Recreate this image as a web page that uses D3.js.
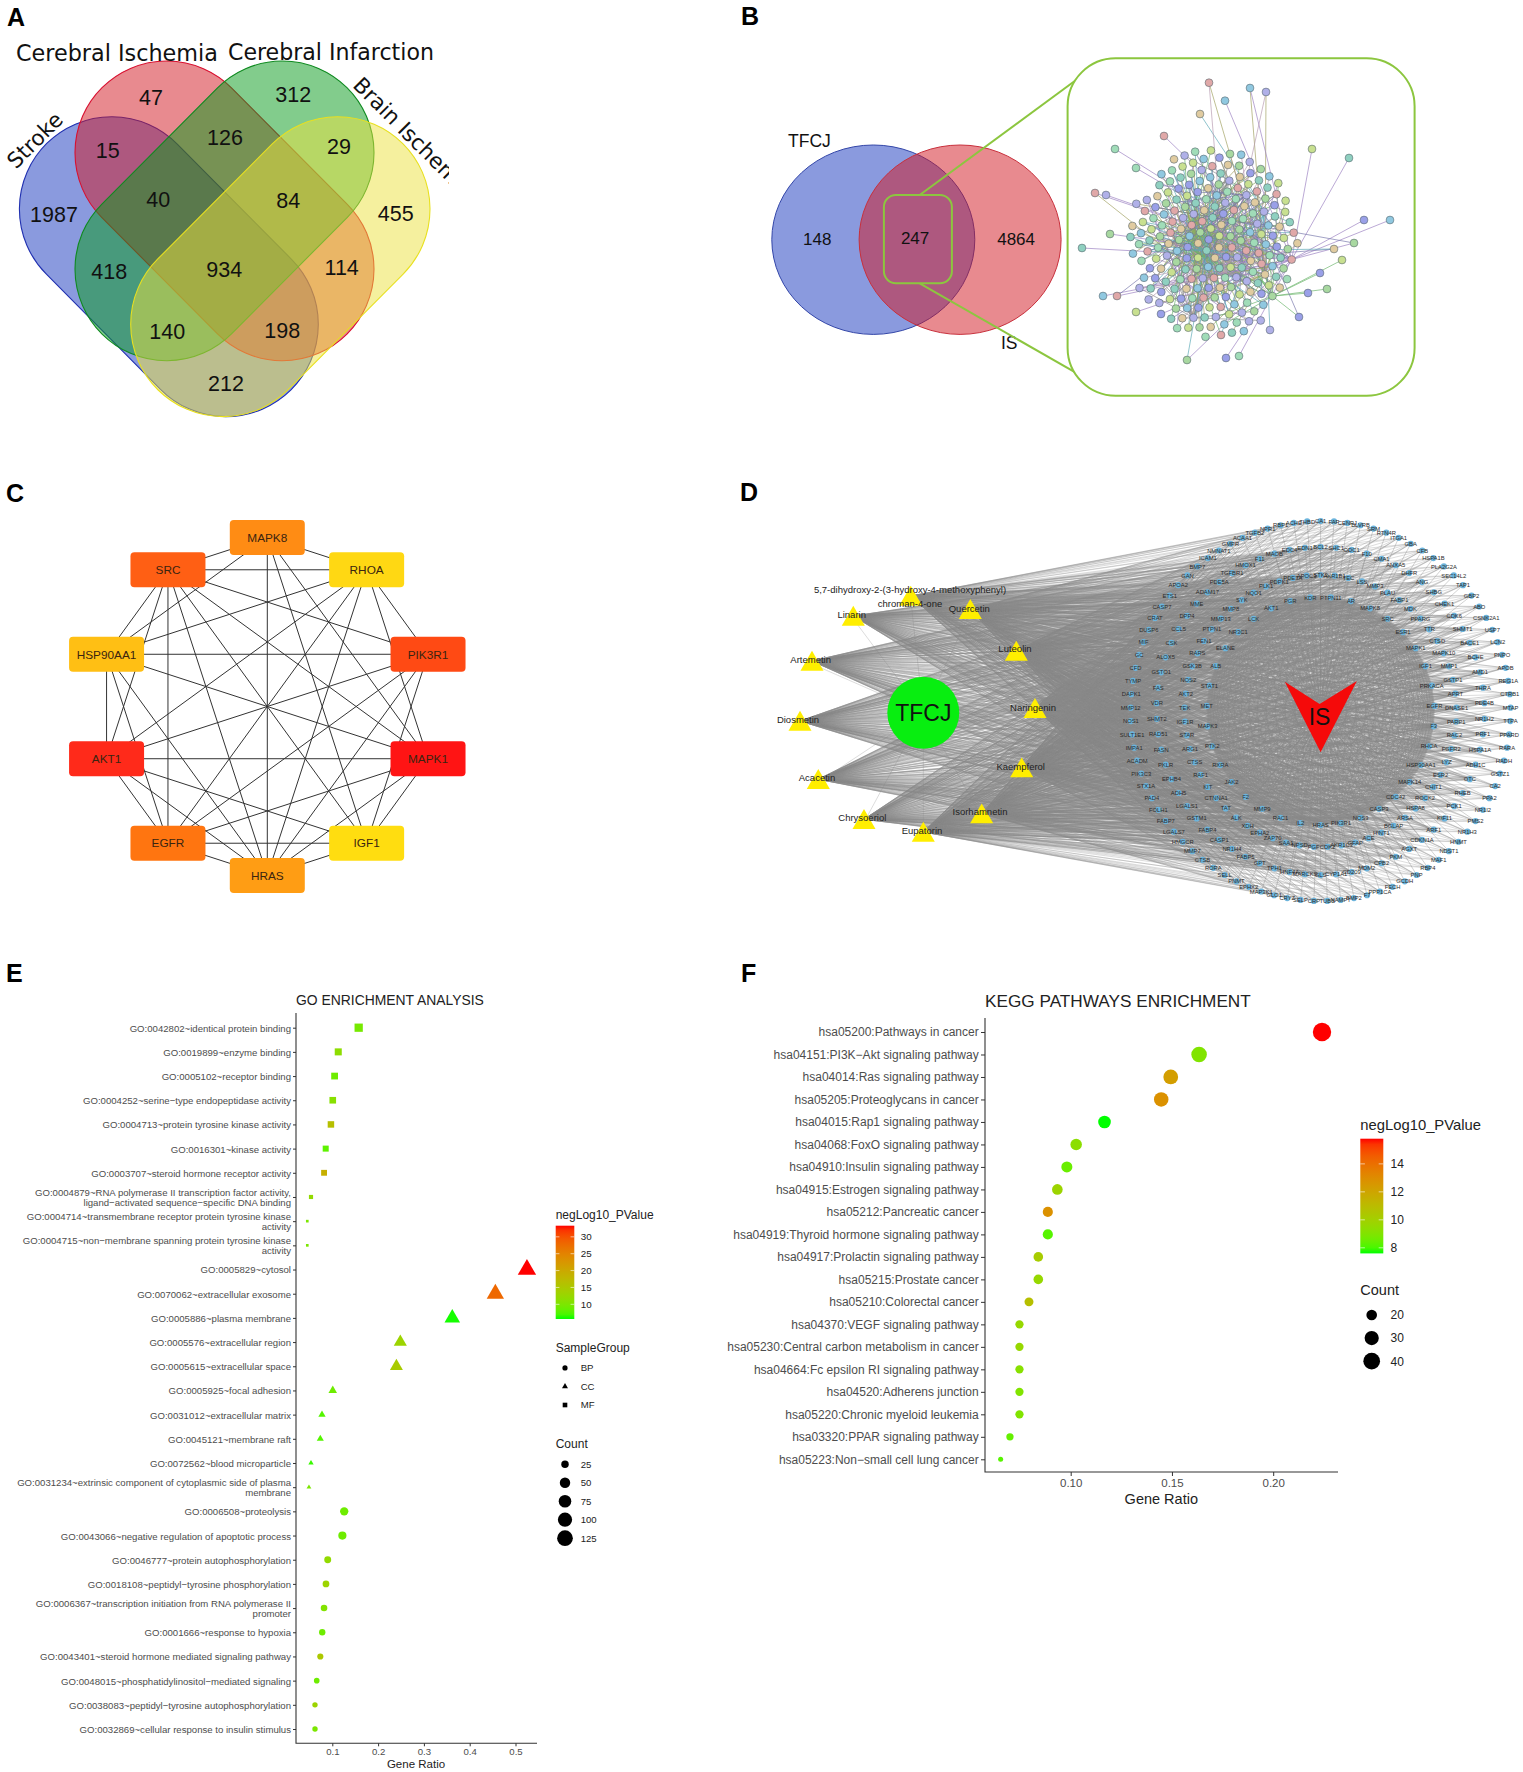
<!DOCTYPE html>
<html><head><meta charset="utf-8">
<script src="https://cdn.jsdelivr.net/npm/d3@7/dist/d3.min.js"></script>
<style>
html,body{margin:0;padding:0;background:#fff;overflow:hidden}
svg{display:block}
text{font-family:"Liberation Sans",Arial,sans-serif}
</style></head><body>
<svg id="fig" width="1523" height="1772" viewBox="0 0 1523 1772"></svg>
<script>
/* ---------- DATA ---------- */
const panelLetters = ["A","B","C","D","E","F"];
// Panel A
const vennSets = ["Stroke","Cerebral Ischemia","Cerebral Infarction","Brain Ischemia"];
const vennCounts = [47,312,15,126,29,1987,40,84,455,418,934,114,140,198,212];
// Panel B
const ppiVennSets = ["TFCJ","IS"];
const ppiVennCounts = [148,247,4864];
// Panel C
const hubGenes = ["MAPK8","RHOA","PIK3R1","MAPK1","IGF1","HRAS","EGFR","AKT1","HSP90AA1","SRC"];
const hubColors = ["#FF8C14","#FFD813","#FF4A14","#FF1414","#FFDD10","#FF9D14","#FF7510","#FF2A1A","#FFBF14","#FF5F14"];
const hubEdges = [
 ["MAPK8","SRC"],["MAPK8","RHOA"],["MAPK8","HSP90AA1"],["MAPK8","HRAS"],["MAPK8","IGF1"],["MAPK8","MAPK1"],
 ["RHOA","SRC"],["RHOA","HSP90AA1"],["RHOA","AKT1"],["RHOA","EGFR"],["RHOA","HRAS"],["RHOA","PIK3R1"],["RHOA","MAPK1"],
 ["SRC","PIK3R1"],["SRC","HSP90AA1"],["SRC","AKT1"],["SRC","EGFR"],["SRC","HRAS"],["SRC","IGF1"],["SRC","MAPK1"],
 ["PIK3R1","HSP90AA1"],["PIK3R1","AKT1"],["PIK3R1","EGFR"],["PIK3R1","HRAS"],["PIK3R1","IGF1"],
 ["MAPK1","HSP90AA1"],["MAPK1","AKT1"],["MAPK1","EGFR"],["MAPK1","HRAS"],["MAPK1","IGF1"],
 ["IGF1","AKT1"],["IGF1","EGFR"],["IGF1","HRAS"],
 ["HSP90AA1","AKT1"],["HSP90AA1","EGFR"],["HSP90AA1","HRAS"],
 ["AKT1","EGFR"],["AKT1","HRAS"],["EGFR","HRAS"]];
// Panel D
const compounds = ["Linarin","5,7-dihydroxy-2-(3-hydroxy-4-methoxyphenyl)\nchroman-4-one","Quercetin","Luteolin","Naringenin","Kaempferol","Isorhamnetin","Eupatorin","Chrysoeriol","Acacetin","Diosmetin","Artemetin"];
const compoundRings = [[0,1,2],[0,1,2,3],[0,1,2,3],[0,1,2,3],[0,1,2,3],[0,1,2,3],[0,1,2,3],[0,1,2,3],[0,1,2],[0,1,2],[0,1,2],[0,1,2]];
const ringInner = ["PTPN11","AR","MAPK8","SRC","ESR1","MAPK1","IGF1","PRKACA","EGFR","F3","RHOA","HSP90AA1","MAPK14","CDC42","CASP3","NOS3","PIK3R1","HRAS","IL2","RAC1","MMP9","F2","JAK2","RXRA","PTK2","MAPK3","MET","STAT1","ALB","ELANE","NR3C1","LCK","AKT1","PGR","KDR"];
const ringSecond = ["STK3","AKR1B1","TEC","LSS","MMP3","PLAU","FABP1","MDK","PPARG","TTR","CTSD","MAPK10","MMP1","GSTP1","APRT","DNASE1","PARP1","RAC2","FGFR2","LYZ","ESR2","CHIT1","ROCK2","HSPA8","ARSA","BGLAP","HINT1","ACE","GFAP","AKR1C3","CDK2","PGF","NPSD","SAA1","ZAP70","EPHA2","XDH","ALK","TAT","CTNNA1","KIT","RAF1","CTSS","ARG1","STAR","IGF1R","TEK","AKT2","NOS2","GSK3B","RARS","FEN1","PTPN1","MMP13","MMP8","SYK","NQO1","PLK1","PDPK1","PDE3A","APOC3"];
const ringThird = ["BCL2","SHC1","ODC1","F10","CMA1","ANXA5","DHFR","ANG","SHBG","CHEK1","CDK6","SHMT1","BACE1","BCHE","AMD1","THRA","PDE4B","NR1H2","PRF1","HSPA1A","ADH1C","OTC","RHEB","PCK1","KIF11","ARF1","CDKN1A","AGXT","PKM","CPB2","MDM2","CD209","CYP1A1","GLS","MARCKS","HNF4A","TPH1","GPT","FABP5","NR1H4","CASP1","FABP4","GSTM1","LGALS1","ADH5","EPHB4","PKLR","FASN","RAD51","SHMT2","VDR","FAS","GSTO1","ALOX5","CSK","CCL5","DPP4","MME","ADAM17","PDE5A","TGFBR1","HMOX1","F11","MAOB","EDC4","EDN1"];
const ringOuter = ["CA1","FAP","CENPJ","BLVRB","SRM","RTN4R","ITGA1","GBA","CFB","HSPA1B","PLA2G2A","SEC14L2","TAP1","GBP2","ABO","CSNK2A1","USP7","LCN2","PNPO","APOB","REG1A","CTRB1","MTAP","TTPA","PPARD","RARA","HADH","GSTZ1","CA2","PPA2","NR1I2","PMS2","NR1H3","HNMT","NDST1","MAF1","RBP4","PNP","GCDH","FECH","PPP1CA","F7","BMP2","NAMPT","TUBB","CRP","SELP","CRYZ","GLO1","MAP3K1","EPHX2","PNMT","SELL","RORA","CTSB","MMP7","HMGCR","LGALS7","FABP7","FOLH1","PAD4","STX1A","PIK3C3","ACADM","IMPA1","SULT1E1","NOS1","MMP12","DAPK1","TYMP","CFD","GC","MIF","DUSP6","CRAT","CASP7","ETS1","APOA2","GAN","BMP7","ICAM1","NMNAT1","GMPR","ACAA1","TGFB2","NPR1","RBP1","ACHE","THBD"];
// Panel B network: partners of the most connected proteins
const stringLinks = [
 ["AKT1","MAPK1 SRC EGFR HSP90AA1 PIK3R1 HRAS MAPK8 RHOA IGF1 ESR1 CASP3 MMP9 STAT1 ALB AR KDR MAPK14 NOS3 PPARG GSK3B MDM2 BCL2 CDKN1A RAF1 PDPK1 MET JAK2 PRKACA PTK2 CDK2 PARP1 HSPA8"],
 ["MAPK1","SRC EGFR PIK3R1 HRAS MAPK8 RHOA IGF1 ESR1 CASP3 MMP9 STAT1 AR KDR MAPK14 PPARG GSK3B MDM2 BCL2 RAF1 MET PTK2 CDK6 PLAU CCL5 PTPN1 ICAM1 MMP3 PTPN11"],
 ["SRC","EGFR HSP90AA1 PIK3R1 HRAS RHOA IGF1 ESR1 STAT1 AR KDR PTK2 MET JAK2 PRKACA LCK SYK ZAP70 KIT TEK ALK EPHA2 EPHB4 CSK CDC42 RAC1 IGF1R SHC1"],
 ["EGFR","HSP90AA1 PIK3R1 HRAS IGF1 ESR1 STAT1 AR KDR PTK2 MET JAK2 ALB FGFR2 IGF1R SHC1 MMP9 PTPN1 ADAM17 CDK2 ANXA5"],
 ["HSP90AA1","PIK3R1 IGF1 ESR1 STAT1 AR KDR NOS3 PGR NR3C1 HSPA8 HSPA1A HSPA1B CDK6 CHEK1 RAF1 PLK1 AKR1C3 GSK3B"],
 ["ALB","IGF1 CASP3 MMP9 F2 APOB APOA2 APOC3 TTR RBP4 CRP FABP1 FABP4 FABP5 FABP7 ACE SELP SELL ICAM1 GC TTPA AGXT GPT PLA2G2A ABO F7 F10 F11 ELANE HMOX1 LCN2 MIF"],
 ["MMP9","MMP1 MMP3 MMP7 MMP8 MMP12 MMP13 PLAU CTSD CTSB CTSS ELANE TGFB2 FAS F3 REG1A MME ACE CCL5 MIF LYZ ADAM17 BACE1 CMA1 FAP PRF1"],
 ["CASP3","CASP1 CASP7 BCL2 PARP1 FAS STAT1 RAC1 MDM2 CTSD HMOX1 NQO1 GSTP1 CDKN1A LGALS1 ANXA5 FEN1 PLK1 GSTM1 KIF11"],
 ["ESR1","ESR2 AR PGR PPARG RXRA NR3C1 NR1H2 NR1H3 NR1H4 NR1I2 THRA RARA HNF4A VDR PPARD AKR1B1 AKR1C3 SULT1E1 SHBG CYP1A1 STAR BMP2"],
 ["PPARG","PPARD RXRA FABP1 FABP4 FABP5 FABP7 HMGCR FASN PCK1 ACADM ACAA1 GBA RBP1 NAMPT ADH5 ADH1C CRAT"],
 ["KDR","F2 NOS3 PGF TEK EPHA2 KIT RAC1 ANG MET PTK2 IGF1R EDN1 VDR PDE5A PDE3A PDE4B DUSP6 NOS1 NOS2 GFAP"],
 ["MAPK14","MAPK8 MAPK3 MAPK10 STAT1 PTK2 GSK3B CDK2 CDK6 MAP3K1 ROCK2 PDPK1 HINT1 CSNK2A1 STK3 TEC"],
 ["F2","F3 F7 F10 F11 PLAU SELP CPB2 THBD CMA1 ACE DPP4 ELANE CFB CFD CTRB1"],
 ["CDK2","CHEK1 PLK1 CDC42 CDKN1A RHEB MDM2 RAD51 PMS2 AKT2 CENPJ FEN1 TAP1 TUBB"],
 ["GSTP1","GSTM1 GSTO1 GSTZ1 HMOX1 NQO1 GCDH MAOB ALOX5 EPHX2 DHFR XDH BLVRB GLO1 ODC1 SHMT1 SHMT2 MTAP PNP AMD1 SRM"],
 ["HMGCR","LSS APOB SEC14L2 AKR1B1 MME TPH1 PNMT HNMT CA1 CA2 OTC GPT PKM PCK1 GLS ARG1 TAT ARSA FECH"],
 ["RAC1","RAC2 RHOA CDC42 ARF1 SHC1 CTNNA1 ROCK2 MARCKS PIK3C3 DAPK1 FOLH1 PAD4 IMPA1 BGLAP TYMP"],
 ["LCN2","SRM NDST1 GBP2 CD209 USP7 EDC4 PNPO PPA2 HADH RTN4R ITGA1 BCHE ACHE GAN DNASE1 NPR1 MAF1 NMNAT1 GMPR ETS1 RORA"],
 ["STAT1","RARS TEC LSS MDK CHIT1 HINT1 GFAP NPSD SAA1 IL2 ALK LYZ CRYZ STX1A TGFBR1 TGFB2 MAPK3 RAC2 ROCK2 CTSS"],
 ["NOS3","ARG1 DPP4 EDN1 THBD MME ACE PGF AKT2 MAPK10 CFB HSPA1A PDE5A GBA LSS MTAP NOS1 NOS2"],
 ["CCL5","ICAM1 SELP SELL MIF IL2 FAS TGFB2 LCN2 CRP CD209 PRF1 LYZ CFB DPP4"],
 ["PLAU","MMP1 MMP3 MMP13 FAP CTSB CTSD LGALS1 ANXA5 TGFBR1 BMP2 ANG MDK EPHA2"],
 ["FABP4","FABP1 FABP5 FABP7 RBP1 RBP4 APOA2 APOC3 ACAA1 CRAT HADH ACADM TTR GC"],
 ["CYP1A1","AKR1C3 AKR1B1 EPHX2 SULT1E1 GSTM1 NQO1 ADH5 ADH1C XDH MAOB TPH1 PNMT HNMT"],
 ["PARP1","RAD51 FEN1 CHEK1 PLK1 KIF11 TUBB PMS2 HSPA8 HSPA1A HSPA1B MDM2 SHMT1 DHFR"],
 ["GSK3B","AKT2 RHEB PDPK1 MARCKS CTNNA1 MAPK10 MAP3K1 ROCK2 DAPK1 CSNK2A1 STK3 PKM TEC"],
 ["PKM","PCK1 GLS OTC AGXT TAT GPT ARG1 FASN NAMPT APRT PNP AMD1 ODC1 GBA ACE"],
 ["IGF1R","FGFR2 KIT TEK EPHB4 ALK SHC1 MET CSK ZAP70 SYK LCK PTPN1 PTPN11"],
 ["VDR","RXRA RARA THRA PPARD NR1H2 NR1H3 NR1H4 NR1I2 HNF4A PGR NR3C1 BGLAP CA2 RORA"],
 ["F3","F7 F10 THBD PLA2G2A SELP ICAM1 CPB2 ELANE CTRB1 ABO CFD MME BCHE"]
];
// Panel B: proteins that stand apart from the dense core
const stringOutliers = ["ODC1","SRM","AMD1","GBP2","TAP1","USP7","EDC4","MAF1","PNPO","RTN4R","NPR1","GAN","CD209","HADH","PPA2","NMNAT1","GMPR","ETS1","RORA","DNASE1","ACHE","BCHE","ITGA1","NDST1","TUBB","CENPJ","BGLAP","TYMP","IMPA1","PAD4","FOLH1","CTRB1"];
// Panel E
const goLabels = ["GO:0042802~identical protein binding","GO:0019899~enzyme binding","GO:0005102~receptor binding","GO:0004252~serine−type endopeptidase activity","GO:0004713~protein tyrosine kinase activity","GO:0016301~kinase activity","GO:0003707~steroid hormone receptor activity","GO:0004879~RNA polymerase II transcription factor activity,\nligand−activated sequence−specific DNA binding","GO:0004714~transmembrane receptor protein tyrosine kinase\nactivity","GO:0004715~non−membrane spanning protein tyrosine kinase\nactivity","GO:0005829~cytosol","GO:0070062~extracellular exosome","GO:0005886~plasma membrane","GO:0005576~extracellular region","GO:0005615~extracellular space","GO:0005925~focal adhesion","GO:0031012~extracellular matrix","GO:0045121~membrane raft","GO:0072562~blood microparticle","GO:0031234~extrinsic component of cytoplasmic side of plasma\nmembrane","GO:0006508~proteolysis","GO:0043066~negative regulation of apoptotic process","GO:0046777~protein autophosphorylation","GO:0018108~peptidyl−tyrosine phosphorylation","GO:0006367~transcription initiation from RNA polymerase II\npromoter","GO:0001666~response to hypoxia","GO:0043401~steroid hormone mediated signaling pathway","GO:0048015~phosphatidylinositol−mediated signaling","GO:0038083~peptidyl−tyrosine autophosphorylation","GO:0032869~cellular response to insulin stimulus"];
const goGroup = ["MF","MF","MF","MF","MF","MF","MF","MF","MF","MF","CC","CC","CC","CC","CC","CC","CC","CC","CC","CC","BP","BP","BP","BP","BP","BP","BP","BP","BP","BP"];
const goRatio = [.1576,.113,.105,.101,.097,.0856,.082,.0535,.0454,.0454,.525,.456,.362,.2485,.24,.101,.0775,.0738,.0535,.049,.126,.122,.09,.0862,.082,.078,.0738,.066,.0622,.0622];
const goNegLog = [9.5,11.5,9,11,16.5,8,19,12,10,10,33.3,28,5.8,13,14.5,9,7.5,7.5,6.5,10,9,9,12,13,10.5,9,15,9,13,10];
const goCount = [39,28,26,25,24,21,20,13,11,11,130,113,89,61,59,25,19,18,13,12,31,30,22,21,20,19,18,16,15,15];
const goColorTicks = [10,15,20,25,30];
const goSizeTicks = [25,50,75,100,125];
const goRatioTicks = [.1,.2,.3,.4,.5];
const goGroups = ["BP","CC","MF"];
// Panel F
const keggLabels = ["hsa05200:Pathways in cancer","hsa04151:PI3K−Akt signaling pathway","hsa04014:Ras signaling pathway","hsa05205:Proteoglycans in cancer","hsa04015:Rap1 signaling pathway","hsa04068:FoxO signaling pathway","hsa04910:Insulin signaling pathway","hsa04915:Estrogen signaling pathway","hsa05212:Pancreatic cancer","hsa04919:Thyroid hormone signaling pathway","hsa04917:Prolactin signaling pathway","hsa05215:Prostate cancer","hsa05210:Colorectal cancer","hsa04370:VEGF signaling pathway","hsa05230:Central carbon metabolism in cancer","hsa04664:Fc epsilon RI signaling pathway","hsa04520:Adherens junction","hsa05220:Chronic myeloid leukemia","hsa03320:PPAR signaling pathway","hsa05223:Non−small cell lung cancer"];
const keggRatio = [.2241,.1634,.1494,.1447,.1167,.1027,.0981,.0934,.0887,.0887,.084,.084,.0794,.0747,.0747,.0747,.0747,.0747,.07,.0654];
const keggNegLog = [15.8,9,12.3,12.8,7.6,9.3,8.5,9.8,12.8,8.2,10.2,9.6,10.8,9.6,9.6,9.2,9,9,8.4,8.2];
const keggCount = [48,35,32,31,25,22,21,20,19,19,18,18,17,16,16,16,16,16,15,14];
const keggColorTicks = [8,10,12,14];
const keggSizeTicks = [20,30,40];
const keggRatioTicks = [.10,.15,.20];

/* ---------- LAYOUT ---------- */
const svg = d3.select("#fig");
const defs = svg.append("defs");
svg.append("rect").attr("width",1523).attr("height",1772).attr("fill","#fff");
const letterPos = [[7,26],[741,25],[6,502],[740,501],[6,982],[741,982]];
svg.selectAll("text.letter").data(panelLetters).join("text").attr("class","letter")
  .attr("x",(d,i)=>letterPos[i][0]).attr("y",(d,i)=>letterPos[i][1])
  .attr("font-size",25).attr("font-weight",700).attr("fill","#000").text(d=>d);

/* ----- Panel A ----- */
(function(){
  const g = svg.append("g");
  const shapes = [
   {a:[111.7,209],b:[226,324.3],r:92.3,fill:"#1535bd",stroke:"#2030b0"},
   {a:[166.7,152.7],b:[282.3,269],r:91.7,fill:"#d1151f",stroke:"#d81030"},
   {a:[282.3,152.7],b:[166.7,269],r:91.7,fill:"#05991a",stroke:"#0f8a20"},
   {a:[337.7,209],b:[223,324.3],r:92.3,fill:"#ebe13d",stroke:"#e8e020"}];
  g.selectAll("rect").data(shapes).join("rect").each(function(s){
    const dx=s.b[0]-s.a[0],dy=s.b[1]-s.a[1],L=Math.hypot(dx,dy),ang=Math.atan2(dy,dx)*180/Math.PI;
    d3.select(this).attr("x",-s.r).attr("y",-s.r).attr("width",L+2*s.r).attr("height",2*s.r).attr("rx",s.r).attr("ry",s.r)
      .attr("transform",`translate(${s.a[0]},${s.a[1]}) rotate(${ang})`)
      .attr("fill",s.fill).attr("fill-opacity",.5).attr("stroke",s.stroke).attr("stroke-width",1.1);
  });
  const pos=[[151,97],[293.3,94],[107.7,150],[225,137.7],[339,146],[54,214],[158.3,199],[288.3,200.7],[395.7,213.3],[109.3,271.7],[224.3,269],[341.7,267.7],[167.3,331],[282.3,330.7],[226,383.3]];
  g.selectAll("text.n").data(vennCounts).join("text").attr("class","n")
    .attr("x",(d,i)=>pos[i][0]).attr("y",(d,i)=>pos[i][1]).attr("dy","0.36em")
    .attr("text-anchor","middle").attr("font-size",21.5).attr("fill","#111").text(d=>d);
  defs.append("clipPath").attr("id","clipA").append("rect").attr("x",0).attr("y",0).attr("width",449).attr("height",460);
  const dj='"DejaVu Sans",sans-serif';
  const t = g.append("g").attr("clip-path","url(#clipA)");
  t.append("text").attr("transform","translate(34.7,140) rotate(-45)").attr("text-anchor","middle").attr("dy","0.36em").attr("font-size",21.5).style("font-family",dj).attr("fill","#111").text(vennSets[0]);
  t.append("text").attr("x",16).attr("y",61).attr("font-size",22.3).style("font-family",dj).attr("fill","#111").text(vennSets[1]);
  t.append("text").attr("x",228).attr("y",60).attr("font-size",22.1).style("font-family",dj).attr("fill","#111").text(vennSets[2]);
  t.append("text").attr("transform","translate(351.7,86.3) rotate(45)").attr("font-size",21.5).style("font-family",dj).attr("fill","#111").text(vennSets[3]);
})();

/* ----- Panel B ----- */
(function(){
  const g = svg.append("g");
  const green="#8cc63f";
  const ell=[{cx:873.3,cy:239.7,rx:101.5,ry:94.7,fill:"#1535bd",stroke:"#3346a8"},{cx:960.1,cy:239.7,rx:101,ry:94.7,fill:"#d1151f",stroke:"#c8303c"}];
  g.selectAll("ellipse").data(ell).join("ellipse").attr("cx",d=>d.cx).attr("cy",d=>d.cy).attr("rx",d=>d.rx).attr("ry",d=>d.ry)
    .attr("fill",d=>d.fill).attr("fill-opacity",.5).attr("stroke",d=>d.stroke).attr("stroke-width",1);
  const numPos=[[817.3,238.7],[915.1,238],[1016.1,239.3]];
  g.selectAll("text.n").data(ppiVennCounts).join("text").attr("class","n")
    .attr("x",(d,i)=>numPos[i][0]).attr("y",(d,i)=>numPos[i][1]).attr("dy","0.36em").attr("text-anchor","middle").attr("font-size",17).attr("fill","#111").text(d=>d);
  const setPos=[[788,146.7],[1001,349]];
  g.selectAll("text.s").data(ppiVennSets).join("text").attr("class","s")
    .attr("x",(d,i)=>setPos[i][0]).attr("y",(d,i)=>setPos[i][1]).attr("font-size",17.5).attr("fill","#111").text(d=>d);
  g.append("rect").attr("x",883.9).attr("y",195).attr("width",68).attr("height",88.3).attr("rx",12).attr("fill","none").attr("stroke",green).attr("stroke-width",2);
  [[919.7,195,1087.3,71.7],[919.7,283.3,1082.7,376.7]].forEach(l=>g.append("line").attr("x1",l[0]).attr("y1",l[1]).attr("x2",l[2]).attr("y2",l[3]).attr("stroke",green).attr("stroke-width",2));
  g.append("rect").attr("x",1067.6).attr("y",58.3).attr("width",347).attr("height",337.4).attr("rx",48).attr("fill","#fff").attr("stroke",green).attr("stroke-width",2);

  // protein network: D3 force layout, with the outlying proteins held where the picture shows them
  const outlierAt=[[1209,82.7],[1250,88],[1266,92],[1225,100.7],[1200,114],[1115,149],[1136,168],[1164,136],[1349,158],[1312,149],[1390,220],[1364,220],[1354,243],[1095,193],[1106,195],[1082,248],[1110,234],[1103,296],[1117,296],[1136,312],[1161,314],[1187,360],[1226,358],[1239,356],[1221,335],[1270,330],[1299,317],[1308,293],[1327,289],[1320,273],[1342,260],[1334,249]];
  const names = Array.from(new Set([].concat(ringInner,ringSecond,ringThird,ringOuter)));
  const nodes = names.map(id=>{
    const k=stringOutliers.indexOf(id);
    return k<0?{id}:{id,fx:outlierAt[k][0],fy:outlierAt[k][1]};
  });
  const known = new Set(names);
  const links = [];
  stringLinks.forEach(([hub,list],k)=>list.split(" ").forEach(t=>{ if(known.has(hub)&&known.has(t)&&hub!==t) links.push({source:hub,target:t,k}); }));
  d3.forceSimulation(nodes)
    .force("link",d3.forceLink(links).id(d=>d.id).distance(34).strength(.035))
    .force("charge",d3.forceManyBody().strength(-3))
    .force("x",d3.forceX(1213).strength(.13))
    .force("y",d3.forceY(240).strength(.1))
    .force("collide",d3.forceCollide(5.6))
    .stop().tick(400);
  const edgeColor=d3.scaleOrdinal(["#6bb56b","#9a7fc0","#b79ab0","#8fae5a","#7777aa","#5aa7b5","#a0a060","#888888"]);
  g.append("g").selectAll("line").data(links).join("line")
    .attr("x1",d=>d.source.x).attr("y1",d=>d.source.y).attr("x2",d=>d.target.x).attr("y2",d=>d.target.y)
    .attr("stroke",d=>edgeColor(d.k)).attr("stroke-width",.8).attr("stroke-opacity",.85);
  const nodeColor=d3.scaleOrdinal(["#8fd0c0","#a8d8a0","#b0b0e8","#e0cba0","#90c8e0","#c8e090","#9aa0e8","#a0dcb8","#e0a8a8"]);
  g.append("g").selectAll("circle").data(nodes).join("circle")
    .attr("cx",d=>d.x).attr("cy",d=>d.y).attr("r",3.9)
    .attr("fill",d=>nodeColor(d.id)).attr("stroke","#5a6a70").attr("stroke-width",.6);
})();

/* ----- Panel C ----- */
(function(){
  const g=svg.append("g"), cx=267.3, cy=706.5, R=169;
  const angle=d3.scaleLinear().domain([0,hubGenes.length]).range([0,2*Math.PI]);
  const pos=new Map(hubGenes.map((n,i)=>[n,{x:cx+R*Math.sin(angle(i)),y:cy-R*Math.cos(angle(i)),c:hubColors[i],n}]));
  g.append("g").selectAll("line").data(hubEdges).join("line")
    .attr("x1",d=>pos.get(d[0]).x).attr("y1",d=>pos.get(d[0]).y).attr("x2",d=>pos.get(d[1]).x).attr("y2",d=>pos.get(d[1]).y)
    .attr("stroke","#333").attr("stroke-width",1);
  const n=g.append("g").selectAll("g").data([...pos.values()]).join("g").attr("transform",d=>`translate(${d.x},${d.y})`);
  n.append("rect").attr("x",-37.5).attr("y",-17.5).attr("width",75).attr("height",35).attr("rx",4).attr("fill",d=>d.c);
  n.append("text").attr("text-anchor","middle").attr("dy","0.36em").attr("font-size",11.8).attr("fill","#3a2410").text(d=>d.n);
})();

/* ----- Panel D ----- */
(function(){
  const g=svg.append("g"), cx=1320.6, cy=711;
  const rings=[{genes:ringInner,r:114,off:.5},{genes:ringSecond,r:136,off:0},{genes:ringThird,r:164,off:0},{genes:ringOuter,r:190,off:0}];
  const targets=[];
  rings.forEach((ring,k)=>{
    const a=d3.scaleLinear().domain([0,ring.genes.length]).range([0,2*Math.PI]);
    ring.genes.forEach((name,i)=>{
      const t=a(i+ring.off);
      targets.push({name,ring:k,x:cx+ring.r*Math.sin(t),y:cy-ring.r*Math.cos(t)});
    });
  });
  const cPos=[[853.3,619],[910.7,599],[970.3,612.3],[1016.3,654],[1035,711.3],[1021.7,770.7],[981.7,816.7],[923.3,835],[864,822.3],[818.3,782.3],[800,724],[812,664]];
  const labPos=[[851.7,615],[910,590],[969.3,608.7],[1015,649],[1033,707.7],[1020.7,767],[980,812],[922,831],[862.3,818],[817,777.7],[798,720],[810.7,660]];
  const comp=compounds.map((name,i)=>({name,x:cPos[i][0],y:cPos[i][1],lx:labPos[i][0],ly:labPos[i][1],rings:compoundRings[i]}));
  const tf={x:923.3,y:712.7}, is={x:cx,y:714};
  const fan=[], radial=[], mesh=[];
  comp.forEach(c=>targets.forEach(t=>{ if(c.rings.includes(t.ring)) fan.push({x1:c.x,y1:c.y-3,x2:t.x,y2:t.y,ring:t.ring}); }));
  targets.forEach(t=>radial.push({x1:is.x,y1:is.y,x2:t.x,y2:t.y,ring:t.ring}));
  const inner=targets.filter(t=>t.ring===0);
  inner.forEach((a,i)=>inner.slice(i+1).forEach(b=>mesh.push({x1:a.x,y1:a.y,x2:b.x,y2:b.y})));
  const draw=(data,w,op)=>g.append("g").attr("stroke","#8a8a8a").selectAll("line").data(data).join("line")
    .attr("x1",d=>d.x1).attr("y1",d=>d.y1).attr("x2",d=>d.x2).attr("y2",d=>d.y2).attr("stroke-width",w).attr("stroke-opacity",op);
  g.append("g").selectAll("line").data(comp).join("line").attr("x1",tf.x).attr("y1",tf.y).attr("x2",d=>d.x).attr("y2",d=>d.y).attr("stroke","#d8d8d8").attr("stroke-width",.9);
  draw(mesh,.7,.62);
  draw(radial,.7,.55);
  draw(fan,d=>d.ring<3?.55:.7,d=>d.ring<3?.58:.42);
  g.append("g").selectAll("circle").data(targets).join("circle").attr("cx",d=>d.x).attr("cy",d=>d.y).attr("r",3.1).attr("fill","#6cb4dc");
  g.append("g").selectAll("text").data(targets).join("text").attr("x",d=>d.x).attr("y",d=>d.y).attr("dy","0.36em")
    .attr("text-anchor","middle").attr("font-size",5.8).attr("fill","#2a2a2a").text(d=>d.name);
  const tri=d3.symbol().type(d3.symbolTriangle).size(230)();
  g.append("g").selectAll("path").data(comp).join("path").attr("d",tri).attr("transform",d=>`translate(${d.x},${d.y})`).attr("fill","#ffee00");
  g.append("g").selectAll("text").data(comp).join("text").each(function(d){
    const t=d3.select(this).attr("text-anchor","middle").attr("font-size",9.5).attr("fill","#222");
    d.name.split("\n").forEach((l,i)=>t.append("tspan").attr("x",d.lx).attr("y",d.ly+i*13.3).attr("dy","0.36em").text(l));
  });
  g.append("circle").attr("cx",tf.x).attr("cy",tf.y).attr("r",36).attr("fill","#08ee10");
  g.append("text").attr("x",tf.x).attr("y",tf.y).attr("dy","0.36em").attr("text-anchor","middle").attr("font-size",23).attr("fill","#111").text("TFCJ");
  g.append("path").attr("d",d3.line()([[1284.8,681.7],[1319.6,704],[1356.9,681],[1320.6,752.3]])+"Z").attr("fill","#f50a0a");
  g.append("text").attr("x",1319.6).attr("y",716.7).attr("dy","0.36em").attr("text-anchor","middle").attr("font-size",23).attr("fill","#111").text("IS");
})();

/* ---------- shared for E/F ---------- */
function colorBar(g,id,o){
  const color=d3.scaleLinear().domain(o.domain).range(["#00ff00","#ff0000"]).interpolate(d3.interpolateLab);
  const y=d3.scaleLinear().domain(o.domain).range([o.bottom,o.top]);
  const grad=defs.append("linearGradient").attr("id",id).attr("x1",0).attr("x2",0).attr("y1",1).attr("y2",0);
  d3.range(0,1.001,.05).forEach(t=>grad.append("stop").attr("offset",t).attr("stop-color",color(o.domain[0]+t*(o.domain[1]-o.domain[0]))));
  g.append("rect").attr("x",o.x).attr("y",o.top).attr("width",o.width).attr("height",o.bottom-o.top).attr("fill",`url(#${id})`);
  const tk=g.append("g").selectAll("g").data(o.ticks).join("g").attr("transform",d=>`translate(0,${y(d)})`);
  tk.append("line").attr("x1",o.x).attr("x2",o.x+o.width/5).attr("stroke","#fff").attr("stroke-width",.6);
  tk.append("line").attr("x1",o.x+o.width*4/5).attr("x2",o.x+o.width).attr("stroke","#fff").attr("stroke-width",.6);
  tk.append("text").attr("x",o.labelX).attr("dy","0.36em").attr("font-size",o.font).attr("fill","#222").text(d=>d);
  return color;
}
const ink="#4d4d4d";

/* ----- Panel E ----- */
(function(){
  const g=svg.append("g");
  const x=d3.scaleLinear().domain([.1,.5]).range([332.3,515.5]);
  const y=d3.scalePoint().domain(goLabels).range([1027.7,1729]);
  const color=colorBar(g,"gradE",{domain:[5.65,33.3],top:1225.7,bottom:1319,x:555.7,width:18.6,ticks:goColorTicks,labelX:580.7,font:9.8});
  const dia=c=>d3.scaleSqrt().domain([0,119]).range([3,16])(c-11);
  const sym=(grp,d)=>grp==="CC"?d3.symbol().type(d3.symbolTriangle).size(.5726*d*d)():grp==="MF"?d3.symbol().type(d3.symbolSquare).size(.79*d*d)():d3.symbol().type(d3.symbolCircle).size(Math.PI*d*d/4)();
  const axY=d3.axisLeft(y).tickSize(3).tickPadding(2).tickFormat("");
  const ya=g.append("g").attr("transform","translate(296,0)").call(axY);
  ya.select(".domain").remove();
  ya.selectAll(".tick line").attr("stroke","#333");
  ya.selectAll(".tick text").each(function(d){
    const ls=d.split("\n"), t=d3.select(this).text(null).attr("x",-5).attr("dy",null).attr("font-size",9.6).attr("fill",ink).attr("font-family",null);
    ls.forEach((l,i)=>t.append("tspan").attr("x",-5).attr("y",(i-(ls.length-1)/2)*10.3).attr("dy","0.36em").text(l));
  });
  const axX=d3.axisBottom(x).tickValues(goRatioTicks).tickFormat(d3.format(".1f")).tickSize(3).tickPadding(2.3);
  const xa=g.append("g").attr("transform","translate(0,1743.3)").call(axX);
  xa.select(".domain").remove();
  xa.selectAll(".tick line").attr("stroke","#333");
  xa.selectAll(".tick text").attr("font-size",9.6).attr("fill",ink).attr("font-family",null);
  g.append("path").attr("d","M296,1013V1743.3H537").attr("fill","none").attr("stroke","#333").attr("stroke-width",1.1);
  g.append("g").selectAll("path").data(goLabels).join("path")
    .attr("d",(d,i)=>sym(goGroup[i],dia(goCount[i])))
    .attr("transform",(d,i)=>`translate(${x(goRatio[i])},${y(d)})`)
    .attr("fill",(d,i)=>color(goNegLog[i]));
  g.append("text").attr("x",296).attr("y",1005).attr("font-size",13.9).attr("fill","#222").text("GO ENRICHMENT ANALYSIS");
  g.append("text").attr("x",416).attr("y",1768).attr("text-anchor","middle").attr("font-size",11.5).attr("fill","#222").text("Gene Ratio");
  g.append("text").attr("x",555.7).attr("y",1219).attr("font-size",12).attr("fill","#222").text("negLog10_PValue");
  g.append("text").attr("x",555.7).attr("y",1352).attr("font-size",12).attr("fill","#222").text("SampleGroup");
  g.append("text").attr("x",555.7).attr("y",1448).attr("font-size",12).attr("fill","#222").text("Count");
  const gy=d3.scalePoint().domain(goGroups).range([1367.9,1405]);
  const gl=g.append("g").selectAll("g").data(goGroups).join("g").attr("transform",d=>`translate(0,${gy(d)})`);
  gl.append("path").attr("d",d=>sym(d,5.2)).attr("transform","translate(565,0)").attr("fill","#000");
  gl.append("text").attr("x",580.7).attr("dy","0.36em").attr("font-size",9.6).attr("fill","#222").text(d=>d);
  const sy=d3.scalePoint().domain(goSizeTicks).range([1464.3,1538.2]);
  const sl=g.append("g").selectAll("g").data(goSizeTicks).join("g").attr("transform",d=>`translate(0,${sy(d)})`);
  sl.append("circle").attr("cx",565).attr("r",d=>dia(d)/2).attr("fill","#000");
  sl.append("text").attr("x",580.7).attr("dy","0.36em").attr("font-size",9.6).attr("fill","#222").text(d=>d);
})();

/* ----- Panel F ----- */
(function(){
  const g=svg.append("g");
  const x=d3.scaleLinear().domain([.1,.2]).range([1070.7,1273.2]);
  const y=d3.scalePoint().domain(keggLabels).range([1032,1459.3]);
  const color=colorBar(g,"gradF",{domain:[7.6,15.8],top:1138.7,bottom:1253.4,x:1360.3,width:23,ticks:keggColorTicks,labelX:1390.6,font:12});
  const dia=c=>d3.scaleSqrt().domain([0,34]).range([5,18.4])(c-14);
  const ya=g.append("g").attr("transform","translate(985,0)").call(d3.axisLeft(y).tickSize(4).tickPadding(2.3));
  ya.select(".domain").remove();
  ya.selectAll(".tick line").attr("stroke","#333");
  ya.selectAll(".tick text").attr("font-size",12).attr("fill",ink).attr("font-family",null);
  const xa=g.append("g").attr("transform","translate(0,1472)").call(d3.axisBottom(x).tickValues(keggRatioTicks).tickFormat(d3.format(".2f")).tickSize(4).tickPadding(3));
  xa.select(".domain").remove();
  xa.selectAll(".tick line").attr("stroke","#333");
  xa.selectAll(".tick text").attr("font-size",11.5).attr("fill",ink).attr("font-family",null);
  g.append("path").attr("d","M985,1018V1472H1338").attr("fill","none").attr("stroke","#333").attr("stroke-width",1.1);
  g.append("g").selectAll("circle").data(keggLabels).join("circle")
    .attr("cx",(d,i)=>x(keggRatio[i])).attr("cy",d=>y(d)).attr("r",(d,i)=>dia(keggCount[i])/2).attr("fill",(d,i)=>color(keggNegLog[i]));
  g.append("text").attr("x",985).attr("y",1007).attr("font-size",17.2).attr("fill","#222").text("KEGG PATHWAYS ENRICHMENT");
  g.append("text").attr("x",1161.3).attr("y",1504).attr("text-anchor","middle").attr("font-size",14.5).attr("fill","#222").text("Gene Ratio");
  g.append("text").attr("x",1360.3).attr("y",1130).attr("font-size",14.8).attr("fill","#222").text("negLog10_PValue");
  g.append("text").attr("x",1360.3).attr("y",1295).attr("font-size",14.5).attr("fill","#222").text("Count");
  const sy=d3.scalePoint().domain(keggSizeTicks).range([1315,1361.2]);
  const sl=g.append("g").selectAll("g").data(keggSizeTicks).join("g").attr("transform",d=>`translate(0,${sy(d)})`);
  sl.append("circle").attr("cx",1371.7).attr("r",d=>dia(d)/2).attr("fill","#000");
  sl.append("text").attr("x",1390.6).attr("dy","0.36em").attr("font-size",12).attr("fill","#222").text(d=>d);
})();
</script>
</body></html>
